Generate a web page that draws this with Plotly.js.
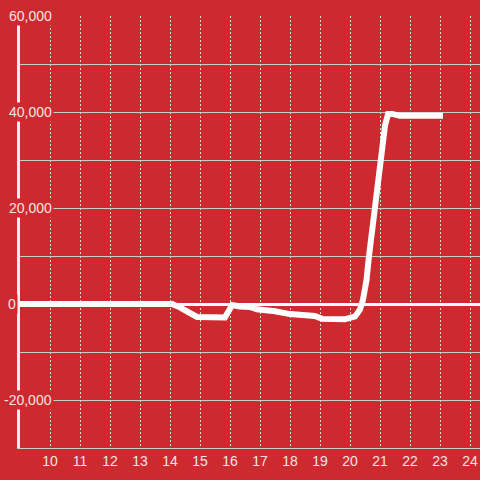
<!DOCTYPE html>
<html>
<head>
<meta charset="utf-8">
<script src="https://cdn.plot.ly/plotly-3.0.1.min.js"></script>
<style>html,body{margin:0;padding:0;background:#cd2a2f;}#chart{width:480px;height:480px;}</style>
</head>
<body>
<div id="chart"></div>
<script>
// Data (hour of day vs value)
const hours = [9, 14.07, 14.33, 14.67, 14.9, 15.83, 16.07, 16.33, 16.67, 16.9, 17.17, 17.5, 18, 18.5, 18.83, 19.07, 19.83, 20.17, 20.33, 20.43, 20.55, 20.63, 20.83, 21.03, 21.17, 21.27, 21.4, 21.67, 23.1];
const values = [0, 0, -700, -1700, -2700, -2800, -200, -500, -600, -1100, -1200, -1500, -2100, -2300, -2500, -3100, -3200, -2600, -1200, 800, 5000, 9800, 20200, 30000, 37300, 39600, 39600, 39200, 39200];
const xTickVals = [10, 11, 12, 13, 14, 15, 16, 17, 18, 19, 20, 21, 22, 23, 24];
const yTickVals = [60000, 40000, 20000, 0, -20000];
const yTickText = ['60,000', '40,000', '20,000', '0', '-20,000'];

const RED = '#cd2a2f';
const LABEL = '#f3e4e4';
const FONT = 'Liberation Sans, Arial, sans-serif';

const annotations = yTickVals.map((v, i) => {
  const t = yTickText[i];
  const rightEdge = t.length > 2 ? 52 : 16;
  return {
    xref: 'paper', x: 0, xanchor: 'right', xshift: rightEdge + 2 - 20,
    yref: 'y', y: v, yanchor: 'middle',
    text: t, showarrow: false, bgcolor: RED, borderpad: 1,
    font: {family: FONT, size: 14, color: LABEL}
  };
});

const trace = {
  x: hours, y: values, type: 'scatter', mode: 'lines',
  line: {color: '#ffffff', width: 6},
  hoverinfo: 'skip'
};

const layout = {
  width: 480, height: 480,
  margin: {l: 20, r: 0, t: 16, b: 32},
  paper_bgcolor: RED, plot_bgcolor: RED,
  showlegend: false,
  font: {family: FONT, size: 14, color: LABEL},
  xaxis: {
    range: [9, 24.3334], tickmode: 'array', tickvals: xTickVals,
    ticktext: xTickVals.map(String),
    showgrid: true, gridcolor: '#dddddd', griddash: '2px,2px', gridwidth: 1,
    zeroline: false, showline: true, linecolor: '#cccccc', linewidth: 1,
    ticks: '', tickfont: {family: FONT, size: 14, color: LABEL}
  },
  yaxis: {
    range: [-30000, 60000], tick0: 0, dtick: 10000,
    showgrid: true, gridcolor: '#cccccc', gridwidth: 1,
    zeroline: true, zerolinecolor: '#ffffff', zerolinewidth: 3,
    showline: true, linecolor: '#eeeeee', linewidth: 3,
    showticklabels: false, ticks: ''
  },
  annotations: annotations
};

Plotly.newPlot('chart', [trace], layout, {staticPlot: true, displayModeBar: false});
</script>
</body>
</html>
